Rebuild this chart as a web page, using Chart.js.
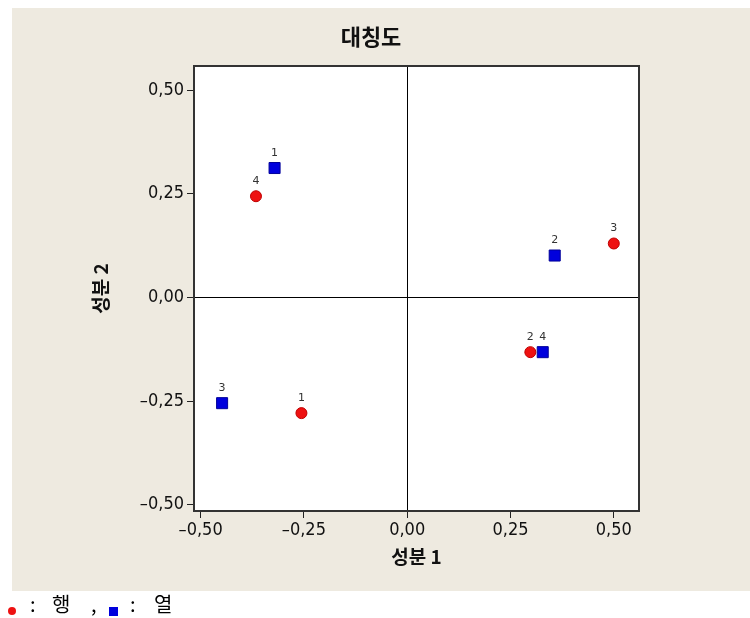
<!DOCTYPE html>
<html>
<head>
<meta charset="utf-8">
<script src="https://cdn.jsdelivr.net/npm/chart.js@4"></script>
<style>
  body { margin: 0; background: #fff; width: 750px; height: 618px; position: relative; overflow: hidden; }
  #panel { position: absolute; left: 12px; top: 8px; width: 738px; height: 583px; background: #eeeae0; }
  #legend { position: absolute; left: 0; top: 590px; width: 750px; height: 28px; font-family: "Noto Sans CJK KR", sans-serif; font-size: 20px; line-height: 28px; color: #000; }
  #legend span { position: absolute; top: 0; }
  #legend .dot { left: 8px; top: 17px; width: 8px; height: 8px; border-radius: 50%; background: #ee1111; }
  #legend .sq { left: 109px; top: 17px; width: 9px; height: 9px; background: #0000dd; }
</style>
</head>
<body>
<div id="panel"><canvas id="chart"></canvas></div>
<div id="legend">
  <span class="dot"></span>
  <span style="left:30px">:</span>
  <span style="left:52px">행</span>
  <span style="left:91px">,</span>
  <span class="sq"></span>
  <span style="left:130px">:</span>
  <span style="left:154px">열</span>
</div>
<script>
// row points (red circles)
var rowLabels = ['1', '2', '3', '4'];
var rowX = [-0.256, 0.298, 0.500, -0.366];
var rowY = [-0.279, -0.132, 0.130, 0.244];
// column points (blue squares)
var colLabels = ['1', '2', '3', '4'];
var colX = [-0.321, 0.357, -0.448, 0.328];
var colY = [0.312, 0.101, -0.255, -0.132];
var tickValues = [-0.5, -0.25, 0, 0.25, 0.5];

function toPoints(xs, ys) {
    return xs.map(function(x, i) { return {x: x, y: ys[i]}; });
}
function fmt(v) {
    return v.toFixed(2).replace('.', ',').replace('-', '\u2013');
}

var frame = {
    id: 'frame',
    beforeDraw: function(chart) {
        var a = chart.chartArea, ctx = chart.ctx;
        ctx.save();
        ctx.fillStyle = '#ffffff';
        ctx.fillRect(a.left, a.top, a.right - a.left, a.bottom - a.top);
        ctx.restore();
    },
    beforeDatasetsDraw: function(chart) {
        var a = chart.chartArea, ctx = chart.ctx;
        ctx.save();
        ctx.strokeStyle = '#333';
        ctx.lineWidth = 2;
        ctx.strokeRect(a.left, a.top, a.right - a.left, a.bottom - a.top);
        ctx.restore();
    },
    afterDraw: function(chart) {
        var ctx = chart.ctx;
        ctx.save();
        ctx.font = 'bold 22px "Noto Sans CJK KR"';
        ctx.fillStyle = '#111';
        ctx.textAlign = 'center';
        ctx.textBaseline = 'middle';
        ctx.fillText('대칭도', 359, 29);
        ctx.restore();
    }
};

var pointLabels = {
    id: 'pointLabels',
    afterDatasetsDraw: function(chart) {
        var ctx = chart.ctx;
        ctx.save();
        ctx.font = '11px "DejaVu Sans"';
        ctx.fillStyle = '#333';
        ctx.textAlign = 'center';
        ctx.textBaseline = 'middle';
        chart.data.datasets.forEach(function(ds, i) {
            chart.getDatasetMeta(i).data.forEach(function(pt, j) {
                ctx.fillText(ds.pointLabels[j], pt.x, pt.y - 15);
            });
        });
        ctx.restore();
    }
};

function axis(min, max, isY) {
    return {
        type: 'linear',
        min: min,
        max: max,
        afterBuildTicks: function(s) { s.ticks = tickValues.map(function(v) { return {value: v}; }); },
        afterFit: function(s) { if (isY) { s.width = 182; } else { s.height = 80; } },
        border: { display: false },
        grid: {
            drawOnChartArea: true,
            drawTicks: true,
            tickLength: 7,
            lineWidth: 1,
            color: function(c) { return c.tick && c.tick.value === 0 ? '#000' : 'rgba(0,0,0,0)'; },
            tickColor: '#222'
        },
        ticks: {
            padding: isY ? 3 : 2,
            color: '#111',
            font: { family: '"DejaVu Sans Condensed", "DejaVu Sans"', size: 18 },
            callback: function(v) { return fmt(v); }
        },
        title: {
            display: true,
            text: isY ? '성분 2' : '성분 1',
            color: '#111',
            font: { family: '"Noto Sans CJK KR"', size: 19, weight: 'bold' },
            padding: isY ? { top: 77 } : { top: 0, bottom: 23 }
        }
    };
}

var ctx = document.getElementById('chart').getContext('2d');
var chart = new Chart(ctx, {
    type: 'scatter',
    data: {
        datasets: [{
            label: '행',
            data: toPoints(rowX, rowY),
            pointLabels: rowLabels,
            pointStyle: 'circle',
            pointRadius: 5.5,
            backgroundColor: '#ee1111',
            borderColor: '#c00000',
            borderWidth: 1
        }, {
            label: '열',
            data: toPoints(colX, colY),
            pointLabels: colLabels,
            pointStyle: 'rect',
            pointRadius: 7.8,
            backgroundColor: '#0000dd',
            borderColor: '#000099',
            borderWidth: 1
        }]
    },
    options: {
        responsive: true,
        maintainAspectRatio: false,
        animation: false,
        layout: { padding: { left: 0, right: 111, top: 58, bottom: 0 } },
        plugins: {
            legend: { display: false },
            tooltip: { enabled: false },
            title: { display: false }
        },
        scales: {
            x: axis(-0.516, 0.561, false),
            y: axis(-0.515, 0.558, true)
        }
    },
    plugins: [frame, pointLabels]
});
</script>
</body>
</html>
